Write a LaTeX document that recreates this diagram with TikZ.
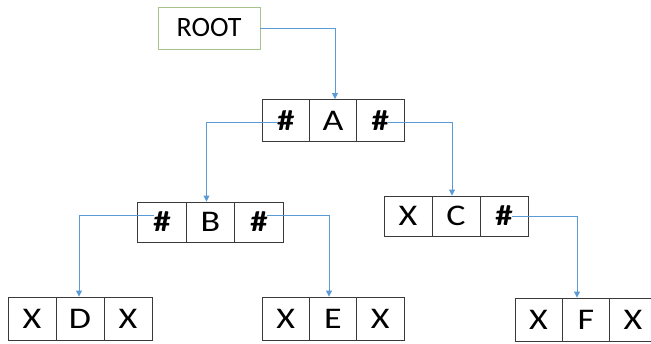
\documentclass[tikz,border=0pt]{standalone}
\usepackage{fontspec}
\usepackage{graphicx}
\setmainfont{Carlito}
\usetikzlibrary{arrows.meta}
\definecolor{conn}{HTML}{5B9BD5}
\definecolor{rootgreen}{HTML}{A9C18C}
\definecolor{boxline}{HTML}{3A3A3A}
\newcommand{\wt}[1]{\raisebox{-1.5pt}{\scalebox{1.2}[1]{#1}}}
\tikzset{
  cell/.style={draw=boxline, line width=0.9pt, minimum height=42pt, inner sep=0pt, font=\fontsize{30}{30}\selectfont},
  hashcell/.style={cell, font=\fontsize{29}{29}\selectfont\bfseries},
  rootbox/.style={draw=rootgreen, line width=0.9pt, minimum width=102pt, minimum height=42pt, inner sep=0pt, font=\fontsize{28}{28}\selectfont},
  link/.style={draw=conn, line width=0.9pt, -{Triangle[width=6pt,length=6pt]}}
}
\begin{document}
\begin{tikzpicture}[x=1pt,y=-1pt]
\useasboundingbox (0,0) rectangle (651,343);
\clip (0,0) rectangle (651,343);
% ROOT
\node[rootbox] (root) at (209,28) {ROOT};
% A
\node[hashcell, minimum width=47.3pt] (a1) at (285.7,120.5) {\wt{\#}};
\node[cell, minimum width=47.3pt] (a2) at (333,120.5) {\wt{A}};
\node[hashcell, minimum width=47.3pt] (a3) at (380.3,120.5) {\wt{\#}};
% B
\node[hashcell, minimum width=48.3pt, minimum height=40pt] (b1) at (162,222) {\wt{\#}};
\node[cell, minimum width=48.3pt, minimum height=40pt] (b2) at (210.5,222) {\wt{B}};
\node[hashcell, minimum width=48.3pt, minimum height=40pt] (b3) at (259,222) {\wt{\#}};
% C
\node[cell, minimum width=48pt, minimum height=40pt] (c1) at (408,216) {\wt{X}};
\node[cell, minimum width=48pt, minimum height=40pt] (c2) at (456,216) {\wt{C}};
\node[hashcell, minimum width=48pt, minimum height=40pt] (c3) at (504,216) {\wt{\#}};
% D
\node[cell, minimum width=48pt, minimum height=43pt] (d1) at (32,318.5) {\wt{X}};
\node[cell, minimum width=48pt, minimum height=43pt] (d2) at (80,318.5) {\wt{D}};
\node[cell, minimum width=48pt, minimum height=43pt] (d3) at (128,318.5) {\wt{X}};
% E
\node[cell, minimum width=47.3pt, minimum height=43pt] (e1) at (285.7,318.5) {\wt{X}};
\node[cell, minimum width=47.3pt, minimum height=43pt] (e2) at (333,318.5) {\wt{E}};
\node[cell, minimum width=47.3pt, minimum height=43pt] (e3) at (380.3,318.5) {\wt{X}};
% F
\node[cell, minimum width=47pt, minimum height=43pt] (f1) at (538.5,319.5) {\wt{X}};
\node[cell, minimum width=47pt, minimum height=43pt] (f2) at (586,319.5) {\wt{F}};
\node[cell, minimum width=47pt, minimum height=43pt] (f3) at (633,319.5) {\wt{X}};
% connectors
\draw[link] (root.east) -| ([xshift=2pt]a2.north);
\draw[link] ([xshift=-8pt,yshift=-1.5pt]a1.center) -| ([xshift=-4pt]b2.north);
\draw[link] ([xshift=8pt,yshift=-1.5pt]a3.center) -| ([xshift=-4pt]c2.north);
\draw[link] ([xshift=-8pt,yshift=7pt]b1.center) -| ([xshift=-1pt]d2.north);
\draw[link] ([xshift=8pt,yshift=7pt]b3.center) -| ([xshift=-4pt]e2.north);
\draw[link] ([xshift=8pt]c3.center) -| ([xshift=-9pt]f2.north);
\end{tikzpicture}
\end{document}
